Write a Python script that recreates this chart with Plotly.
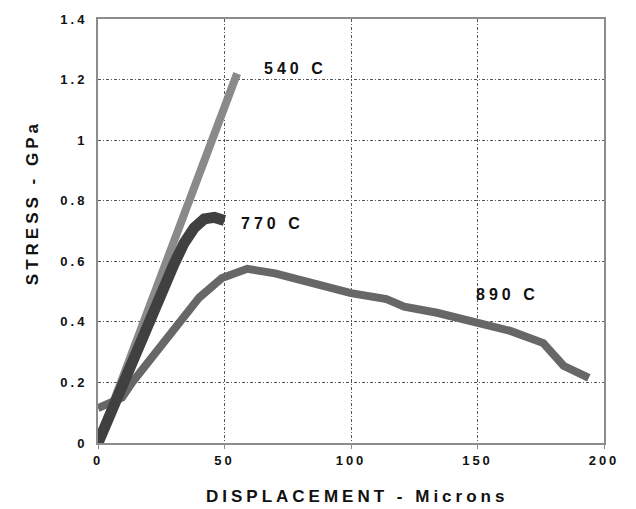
import plotly.graph_objects as go

# 540 C
x540 = [0, 5, 10, 15, 20, 25, 30, 35, 40, 45, 50, 55]
y540 = [0.0, 0.11, 0.22, 0.33, 0.44, 0.55, 0.66, 0.77, 0.88, 0.99, 1.10, 1.22]
# 770 C
x770 = [0, 5, 10, 15, 20, 25, 30, 34, 38, 42, 46, 50]
y770 = [0.0, 0.10, 0.20, 0.30, 0.41, 0.50, 0.59, 0.66, 0.71, 0.74, 0.745, 0.735]
# 890 C
x890 = [0, 9.5, 13.5, 23, 32, 40, 49, 59, 70, 88, 100, 114, 121, 134, 150, 163, 176, 180, 184, 194]
y890 = [0.115, 0.15, 0.20, 0.30, 0.40, 0.48, 0.545, 0.575, 0.56, 0.525, 0.495, 0.475, 0.45, 0.43, 0.40, 0.37, 0.33, 0.295, 0.255, 0.215]

labels = ["540 C", "770 C", "890 C"]
label_x = [78, 69, 162]
label_y = [1.236, 0.725, 0.49]

xticks = [0, 50, 100, 150, 200]
xtext = ["0", "50", "100", "150", "200"]
yticks = [0, 0.2, 0.4, 0.6, 0.8, 1.0, 1.2, 1.4]
ytext = ["0", "0.2", "0.4", "0.6", "0.8", "1", "1.2", "1.4"]

FONT = "Arial, Liberation Sans"


def spaced(t, px):
    return '<b><span style="letter-spacing:%dpx;font-weight:700">%s</span></b>' % (px, t)


fig = go.Figure()
fig.add_trace(go.Scatter(x=x540, y=y540, mode="lines", line=dict(color="#8a8a8a", width=8), name="540 C"))
fig.add_trace(go.Scatter(x=x890, y=y890, mode="lines", line=dict(color="#676767", width=8), name="890 C"))
fig.add_trace(go.Scatter(x=x770, y=y770, mode="lines", line=dict(color="#404040", width=11), name="770 C"))

for t, lx, ly in zip(labels, label_x, label_y):
    fig.add_annotation(x=lx, y=ly, text=spaced(t, 4), showarrow=False,
                       font=dict(family=FONT, size=16, color="#111", weight="bold"))

fig.add_annotation(xref="paper", yref="paper", x=0.512, y=-0.126, yanchor="middle",
                   text=spaced("DISPLACEMENT - Microns", 4), showarrow=False,
                   font=dict(family=FONT, size=17, color="#111", weight="bold"))
fig.add_annotation(xref="paper", yref="paper", x=-0.152, y=0.567, textangle=-90,
                   text=spaced("STRESS - GPa", 4), showarrow=False,
                   font=dict(family=FONT, size=17, color="#111", weight="bold"))

axis_common = dict(showline=True, linecolor="#8c8c8c", linewidth=2, mirror=True,
                   showgrid=True, gridcolor="#555", gridwidth=1, griddash="3px,2px,1px,2px",
                   zeroline=False,
                   tickfont=dict(family=FONT, size=13, color="#111", weight="bold"))

fig.update_xaxes(range=[0, 200], tickvals=xticks, ticktext=[spaced(t, 3) for t in xtext],
                 ticks="outside", ticklen=4, tickcolor="#8c8c8c", **axis_common)
fig.update_yaxes(range=[0, 1.4], tickvals=yticks, ticktext=[spaced(t, 3) for t in ytext],
                 ticks="", ticklabelstandoff=6, **axis_common)

fig.update_layout(width=636, height=509, showlegend=False,
                  plot_bgcolor="white", paper_bgcolor="white",
                  margin=dict(l=98, r=32, t=16, b=66))

fig.write_html("out.html", config={"displayModeBar": False},
               post_script="document.body.style.margin='0';document.body.style.overflow='hidden';")
